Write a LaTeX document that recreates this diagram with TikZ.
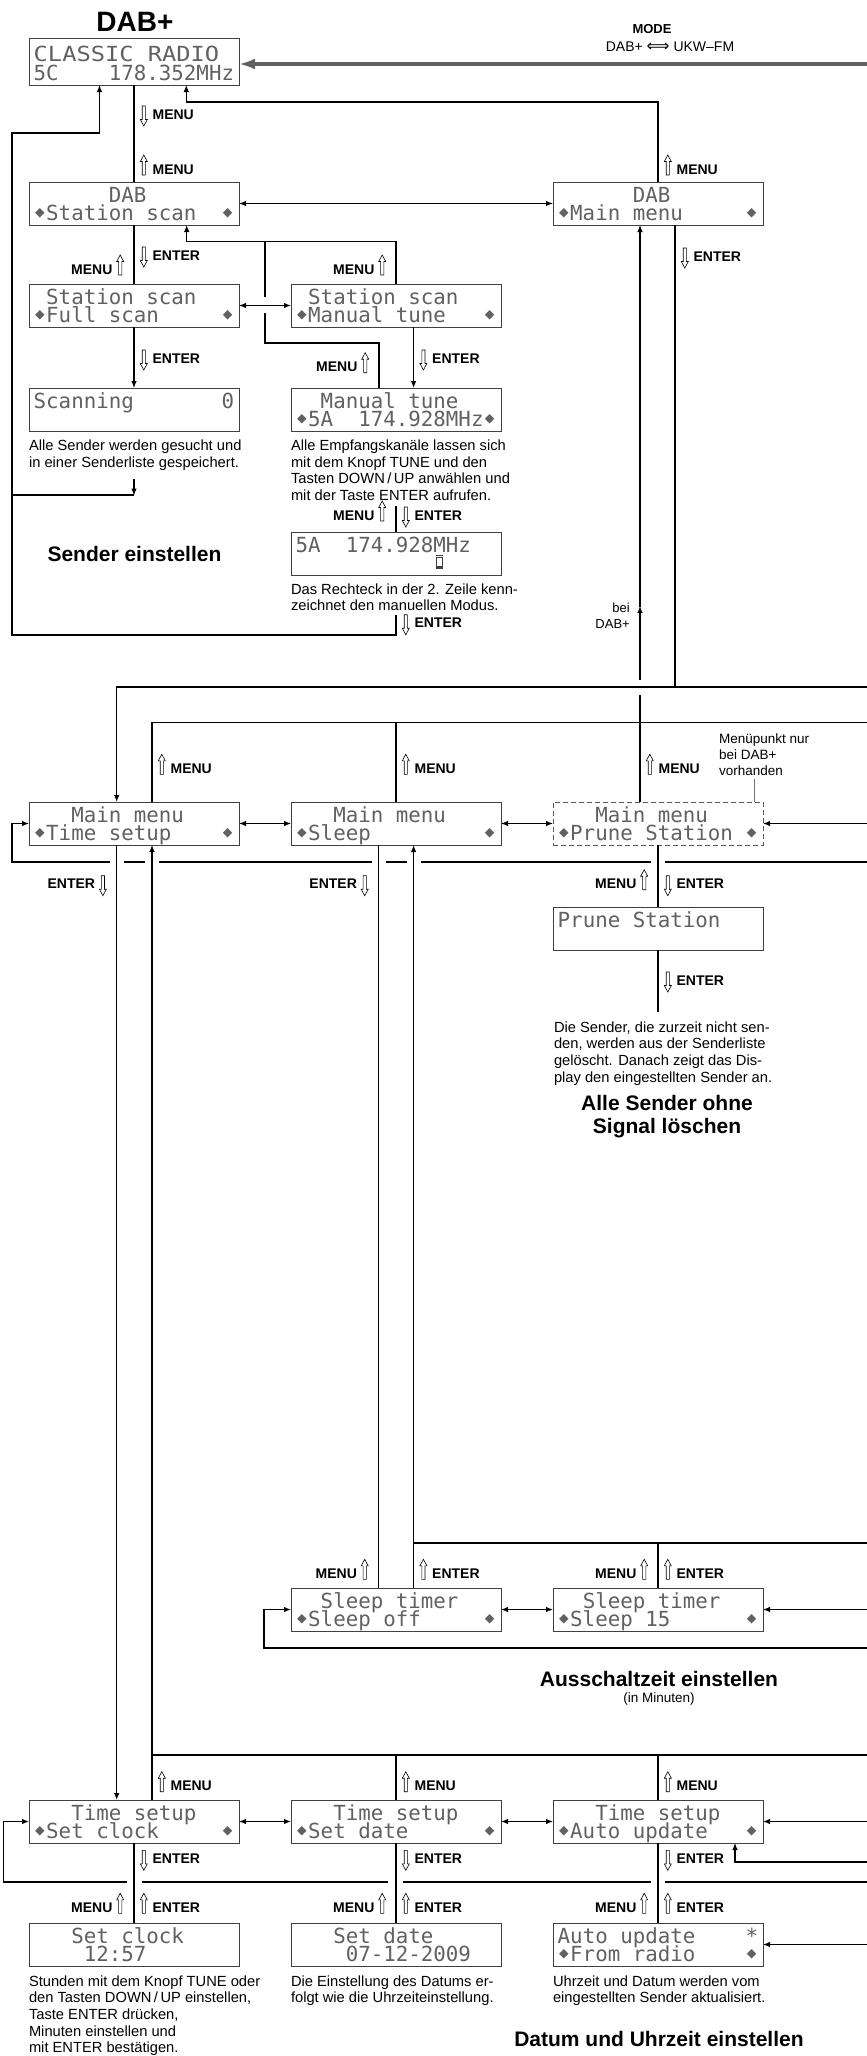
\documentclass[tikz,border=0pt]{standalone}
\usepackage{graphicx}
\usepackage{fontspec}
\setmainfont{Liberation Sans}
\newfontfamily\lcdfont{DejaVu Sans Mono}
\newfontfamily\symfont{DejaVu Sans}
\usetikzlibrary{arrows.meta}
\newcommand\upa{\tikz[baseline={(0pt,1pt)},x=1pt,y=1pt]\draw[line width=0.6pt,black] (1.9,0)--(5.1,0)--(5.1,13.5)--(7,13.5)--(3.5,20)--(0,13.5)--(1.9,13.5)--cycle;}
\newcommand\dna{\tikz[baseline={(0pt,8pt)},x=1pt,y=1pt]\draw[line width=0.6pt,black] (1.9,21)--(5.1,21)--(5.1,7.5)--(7,7.5)--(3.5,1)--(0,7.5)--(1.9,7.5)--cycle;}
\newcommand\sy{\makebox[12.52pt][c]{\symfont\fontsize{12.5pt}{12.5pt}\selectfont\raisebox{3.6pt}{◆}}}
\newcommand\lcd[6][]{%
  \node[lcdbox,#1] (#2) at (#3,#4) {};
  \node[lcdline] (#2a) at ([xshift=4.7pt,yshift=-20.5pt]#2.north west) {#5};
  \node[lcdline] (#2b) at ([xshift=4.7pt,yshift=-38.3pt]#2.north west) {#6};}
\newcommand\lR[5]{\node[lbl,anchor=base west] (#1) at ({#2+6},#3) {#4\hspace{5pt}#5};}
\newcommand\lL[5]{\node[lbl,anchor=base east] (#1) at ({#2-10},#3) {#5\hspace{4pt}#4};}
\begin{document}
\begin{tikzpicture}[x=1pt,y=-1pt,
  lcdbox/.style={draw=black!75, line width=0.9pt, minimum width=210pt, minimum height=43pt, inner sep=0pt, outer sep=0pt, anchor=north west, fill=white},
  lcdline/.style={anchor=base west, inner sep=0pt, outer sep=0pt, text=black!62, font=\lcdfont\fontsize{20.8pt}{20.8pt}\selectfont},
  conn/.style={line width=1.1pt},
  arr/.style={conn, -{Latex[length=7pt,width=5.5pt]}},
  darr/.style={conn, {Latex[length=7pt,width=5.5pt]}-{Latex[length=7pt,width=5.5pt]}},
  lbl/.style={inner sep=0pt, outer sep=0pt, font=\bfseries\fontsize{14pt}{14pt}\selectfont},
  txt/.style={inner sep=0pt, outer sep=0pt, anchor=base west, font=\fontsize{14.7pt}{16.7pt}\selectfont},
  ttl/.style={inner sep=0pt, outer sep=0pt, anchor=base, font=\bfseries\fontsize{21pt}{23pt}\selectfont}]
\useasboundingbox (0,0) rectangle (867,2056);
\fill[white] (0,0) rectangle (867,2056);

% ---------- titles ----------
\node[inner sep=0pt, anchor=base, font=\bfseries\fontsize{28pt}{28pt}\selectfont] (tdab) at (135,31.7) {DAB+};
\node[inner sep=0pt, anchor=base, font=\bfseries\fontsize{13pt}{13pt}\selectfont] (tmode) at (652,33) {MODE};
\node[inner sep=0pt, anchor=base, font=\fontsize{14pt}{14pt}\selectfont] (tmode2) at (670,51) {DAB+ {\symfont\fontsize{16pt}{16pt}\selectfont ⟺} UKW–FM};

% ---------- boxes ----------
\node[lcdbox, minimum height=47pt] (b1) at (29,38) {};
\node[lcdline] (b1a) at ([xshift=4.7pt,yshift=-23pt]b1.north west) {\scalebox{1.14}[1]{CLASSIC~RADIO}};
\node[lcdline] (b1b) at ([xshift=4.7pt,yshift=-42pt]b1.north west) {5C~~~~178.352MHz};

\lcd{b2}{29}{182}{~~~~~~DAB}{\sy Station~scan~~\sy}
\lcd{b3}{553}{182}{~~~~~~DAB}{\sy Main~menu~~~~~\sy}
\lcd{b4}{29}{284}{~Station~scan}{\sy Full~scan~~~~~\sy}
\lcd{b5}{291}{284}{~Station~scan}{\sy Manual~tune~~~\sy}
\lcd{b6}{29}{388}{Scanning~~~~~~~0}{}
\lcd{b7}{291}{388}{~~Manual~tune}{\sy 5A~~174.928MHz\sy}
\lcd{b8}{291}{532}{5A~~174.928MHz}{}
\draw[line width=0.8pt, black!75] (436.5,557) rectangle (442.5,567.5);
\fill[black!75] (436,555) rectangle (443,556.3);
\fill[black!75] (436,566) rectangle (443,568.5);

\lcd{b9}{29}{802}{~~~Main~menu}{\sy Time~setup~~~~\sy}
\lcd{b10}{291}{802}{~~~Main~menu}{\sy Sleep~~~~~~~~~\sy}
\lcd[dashed, dash pattern=on 5pt off 3pt, draw=black!65]{b11}{553}{802}{~~~Main~menu}{\sy Prune~Station~\sy}
\lcd{b12}{553}{907}{Prune~Station}{}
\lcd{b13}{291}{1588}{~~Sleep~timer}{\sy Sleep~off~~~~~\sy}
\lcd{b14}{553}{1588}{~~Sleep~timer}{\sy Sleep~15~~~~~~\sy}
\lcd{b15}{29}{1800}{~~~Time~setup}{\sy Set~clock~~~~~\sy}
\lcd{b16}{291}{1800}{~~~Time~setup}{\sy Set~date~~~~~~\sy}
\lcd{b17}{553}{1800}{~~~Time~setup}{\sy Auto~update~~~\sy}
\lcd{b18}{29}{1923}{~~~Set~clock}{~~~~12:57}
\lcd{b19}{291}{1923}{~~~Set~date}{~~~~07-12-2009}
\lcd{b20}{553}{1923}{Auto~update~~~~*}{\sy From~radio~~~~\sy}

% ---------- top section connectors ----------
\draw[line width=4pt, black!62, -{Latex[length=16pt,width=11pt]}] (867,64) -- ([yshift=-2.5pt]b1.east);
\draw[conn] (b1.south) -- (b2.north);
\draw[arr] (b3.north) |- (186.3,102) -- ([xshift=52.3pt]b1.south);
\draw[arr] (396,615) -- (396,635) -| (12,133) -| ([xshift=-34.5pt]b1.south);
\draw[conn] (12,495) -- (134,495);
\draw[arr] (134,479) -- (134,495.5);
\draw[darr] (b2.east) -- (b3.west);
\draw[conn] (b2.south) -- (b4.north);
\draw[arr] (b5.north) |- (186.7,241.7) -- ([xshift=52.7pt]b2.south);
\draw[conn] ([xshift=-17pt]b7.north) |- (265,343) -- (265,313);
\draw[conn] (265,297) -- (265,241.7);
\draw[darr] (b4.east) -- (b5.west);
\draw[arr] (b4.south) -- (b6.north);
\draw[arr] ([xshift=17.6pt]b5.south) -- ([xshift=17.6pt]b7.north);
\draw[conn] (396,506) -- (b8.north);

% ---------- right top ----------
\draw[conn] ([xshift=17pt]b3.south) -- (675,687);
\draw[arr] (867,687) -| ([xshift=-17.3pt]b9.north);
\draw[conn] ([xshift=-18pt]b11.north) -- (640,695);
\draw[arr] (640,680) -- (640,606);
\draw[arr] (640,607) -- ([xshift=-18pt]b3.south);
\draw[conn] (867,722.7) -| ([xshift=18pt]b9.north);
\draw[conn] (b10.north) -- (396,722.7);
\draw[black!55, line width=0.7pt] (754,779) -- ([xshift=96pt]b11.north);

% ---------- main menu row ----------
\draw[darr] (b9.east) -- (b10.west);
\draw[darr] (b10.east) -- (b11.west);
\draw[arr] (867,823.5) -- (b11.east);
\draw[conn] (867,862) -- (665,862);
\draw[conn] (651,862) -- (421,862);
\draw[conn] (407,862) -- (386,862);
\draw[conn] (372,862) -- (159,862);
\draw[conn] (145,862) -- (124,862);
\draw[arr] (110,862) -| (12,823.5) -- (b9.west);
\draw[conn] (b11.south) -- (b12.north);
\draw[conn] (b12.south) -- (658,1012);

% ---------- long verticals ----------
\draw[arr] ([xshift=-17.3pt]b9.south) -- ([xshift=-17.3pt]b15.north);
\draw[arr] ([xshift=18pt]b15.north) -- ([xshift=18pt]b9.south);
\draw[conn] ([xshift=-17.5pt]b10.south) -- ([xshift=-17.5pt]b13.north);
\draw[arr] ([xshift=17.6pt]b13.north) -- ([xshift=17.6pt]b10.south);

% ---------- sleep ----------
\draw[conn] (867,1543) -- (413.6,1543);
\draw[conn] (b14.north) -- (658,1543);
\draw[darr] (b13.east) -- (b14.west);
\draw[arr] (867,1609.5) -- (b14.east);
\draw[arr] (867,1648) -| (264,1609.5) -- (b13.west);

% ---------- time setup ----------
\draw[conn] (867,1755) -| ([xshift=18pt]b15.north);
\draw[conn] (b16.north) -- (396,1755);
\draw[conn] (b17.north) -- (658,1755);
\draw[darr] (b15.east) -- (b16.west);
\draw[darr] (b16.east) -- (b17.west);
\draw[arr] (867,1821.5) -- (b17.east);
\draw[arr] (867,1862) -| ([xshift=77pt]b17.south);
\draw[conn] (867,1882) -- (665,1882);
\draw[conn] (651,1882) -- (403,1882);
\draw[conn] (388,1882) -- (142,1882);
\draw[arr] (127,1882) -| (3.5,1821.5) -- (b15.west);
\draw[conn] (b15.south) -- (b18.north);
\draw[conn] (b16.south) -- (b19.north);
\draw[conn] (b17.south) -- (b20.north);
\draw[arr] (867,1944.5) -- (b20.east);

% ---------- labels ----------
\lR{l1}{134}{119}{\dna}{MENU}
\lR{l2}{134}{174}{\upa}{MENU}
\lR{l3}{658}{174}{\upa}{MENU}
\lR{l4}{134}{260}{\dna}{ENTER}
\lL{l5}{134}{274}{\upa}{MENU}
\lL{l6}{396}{274}{\upa}{MENU}
\lR{l7}{675}{261}{\dna}{ENTER}
\lR{l8}{134}{363}{\dna}{ENTER}
\lL{l9}{379}{371.7}{\upa}{MENU}
\lR{l10}{413.6}{363}{\dna}{ENTER}
\lL{l11a}{396}{520}{\upa}{MENU}
\lR{l11b}{396}{520}{\dna}{ENTER}
\lR{l12}{396}{627.7}{\dna}{ENTER}
\lR{l13a}{152}{773.3}{\upa}{MENU}
\lR{l13b}{396}{773.3}{\upa}{MENU}
\lR{l13c}{640}{773.3}{\upa}{MENU}
\lL{l14a}{116.7}{888.7}{\dna}{ENTER}
\lL{l14b}{378.5}{888.7}{\dna}{ENTER}
\lL{l15a}{658}{888.7}{\upa}{MENU}
\lR{l15b}{658}{888.7}{\dna}{ENTER}
\lR{l16}{658}{985}{\dna}{ENTER}
\lL{l17a}{378.5}{1578.3}{\upa}{MENU}
\lR{l17b}{413.6}{1578.3}{\upa}{ENTER}
\lL{l17c}{658}{1578.3}{\upa}{MENU}
\lR{l17d}{658}{1578.3}{\upa}{ENTER}
\lR{l18a}{152}{1790.7}{\upa}{MENU}
\lR{l18b}{396}{1790.7}{\upa}{MENU}
\lR{l18c}{658}{1790.7}{\upa}{MENU}
\lR{l19a}{134}{1863.3}{\dna}{ENTER}
\lR{l19b}{396}{1863.3}{\dna}{ENTER}
\lR{l19c}{658}{1863.3}{\dna}{ENTER}
\lL{l20a}{134}{1912.3}{\upa}{MENU}
\lR{l20b}{134}{1912.3}{\upa}{ENTER}
\lL{l20c}{396}{1912.3}{\upa}{MENU}
\lR{l20d}{396}{1912.3}{\upa}{ENTER}
\lL{l20e}{658}{1912.3}{\upa}{MENU}
\lR{l20f}{658}{1912.3}{\upa}{ENTER}

% ---------- texts ----------
\node[txt] (d1) at (29,450.5) {\parbox[t]{240pt}{Alle Sender werden gesucht und\\in einer Senderliste gespeichert.}};
\node[txt] (d2) at (291,450.5) {\parbox[t]{260pt}{Alle Empfangskanäle lassen sich\\mit dem Knopf TUNE und den\\Tasten DOWN\,/\,UP anwählen und\\mit der Taste ENTER aufrufen.}};
\node[txt] (d3) at (291,594) {\parbox[t]{260pt}{Das Rechteck in der 2. Zeile kenn-\\zeichnet den manuellen Modus.}};
\node[txt] (d4) at (554,1032) {\parbox[t]{260pt}{Die Sender, die zurzeit nicht sen-\\den, werden aus der Senderliste\\gelöscht. Danach zeigt das Dis-\\play den eingestellten Sender an.}};
\node[txt] (d5) at (29,1986) {\parbox[t]{260pt}{Stunden mit dem Knopf TUNE oder\\den Tasten DOWN\,/\,UP einstellen,\\Taste ENTER drücken,\\Minuten einstellen und\\mit ENTER bestätigen.}};
\node[txt] (d6) at (291,1986) {\parbox[t]{260pt}{Die Einstellung des Datums er-\\folgt wie die Uhrzeiteinstellung.}};
\node[txt] (d7) at (553,1986) {\parbox[t]{260pt}{Uhrzeit und Datum werden vom\\eingestellten Sender aktualisiert.}};
\node[inner sep=0pt, anchor=base east, font=\fontsize{13pt}{15.5pt}\selectfont] (bei) at (630,612.7) {\parbox[t]{60pt}{\raggedleft bei\\DAB+}};
\node[inner sep=0pt, anchor=base west, font=\fontsize{13.5pt}{16pt}\selectfont] (nur) at (719,743.3) {\parbox[t]{140pt}{Menüpunkt nur\\bei DAB+\\vorhanden}};

\node[ttl] (t1) at (134.5,561.7) {Sender einstellen};
\node[ttl] (t2) at (667,1110) {\parbox[t]{260pt}{\centering Alle Sender ohne\\Signal löschen}};
\node[ttl] (t3) at (659,1686.7) {Ausschaltzeit einstellen};
\node[inner sep=0pt, anchor=base, font=\fontsize{13.5pt}{13.5pt}\selectfont] (t3b) at (659,1702) {(in Minuten)};
\node[ttl] (t4) at (659,2046.7) {Datum und Uhrzeit einstellen};
\end{tikzpicture}
\end{document}
